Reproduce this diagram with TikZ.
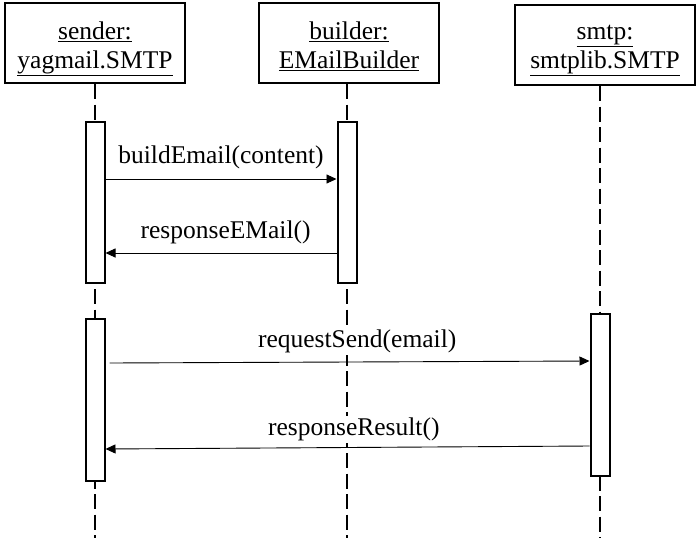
\documentclass[tikz,border=0pt]{standalone}
\usepackage{fontspec}
\setmainfont{Liberation Serif}
\usetikzlibrary{arrows.meta,positioning}

\begin{document}
\begin{tikzpicture}[%
	x=1pt,y=-1pt,
	every node/.style={
		font=\fontsize{25.5}{29}\selectfont,
	},
	object/.style={draw,line width=2pt,minimum width=180pt,minimum height=80pt,align=center,inner sep=0pt,
		text height=56pt,text depth=5pt},
	activation/.style={draw,fill=white,line width=2pt,minimum width=19pt,inner sep=0pt},
	lifeline/.style={line width=2pt,dash pattern=on 15pt off 5.5pt},
	message/.style={line width=0.9pt,-{Triangle[length=10pt,width=9pt]}},
	msglabel/.style={anchor=base,fill=white,inner xsep=1pt,inner ysep=2pt},
	]
	\useasboundingbox (0,0) rectangle (700,538);
	
	% draw object boxes
	\node[object] (sender) at (95,43) {\underline{sender:}\\\underline{yagmail.SMTP}};
	\node[object] (builder) at (349,43) {\underline{builder:}\\\underline{EMailBuilder}};
	\node[object,text depth=10pt] (smtp) at (605,45) {\underline{smtp:}\\\underline{smtplib.SMTP}};
	
	% draw lifelines
	\coordinate (senderEnd) at (95,538);
	\coordinate (builderEnd) at (347,538);
	\coordinate (smtpEnd) at (600,538);
	\draw[lifeline] (sender.south -| senderEnd) -- (senderEnd);
	\draw[lifeline] (builder.south -| builderEnd) -- (builderEnd);
	\draw[lifeline] (smtp.south -| smtpEnd) -- (smtpEnd);
	
	% draw activation bars
	\node[activation,minimum height=161pt] (senderAct1) at (95,202.5) {};
	\node[activation,minimum height=161pt] (builderAct) at (347,202.5) {};
	\node[activation,minimum height=162pt] (senderAct2) at (95,400) {};
	\node[activation,minimum height=162pt] (smtpAct) at (600,395) {};
	
	% draw messages
	\draw[message] (senderAct1.east |- 0,179) -- (builderAct.west |- 0,179)
		node[msglabel,pos=0.5,yshift=16pt] (build) {buildEmail(content)};
	\draw[message] (builderAct.west |- 0,253) -- (senderAct1.east |- 0,253)
		node[msglabel,pos=0.48,yshift=15pt] (response) {responseEMail()};
	\draw[message] ([xshift=4pt]senderAct2.east |- 0,363) -- (smtpAct.west |- 0,361)
		node[msglabel,pos=0.516,yshift=14pt] (request) {requestSend(email)};
	\draw[message] (smtpAct.west |- 0,446) -- (senderAct2.east |- 0,449)
		node[msglabel,pos=0.487,yshift=12pt] (result) {responseResult()};
\end{tikzpicture}
\end{document}
